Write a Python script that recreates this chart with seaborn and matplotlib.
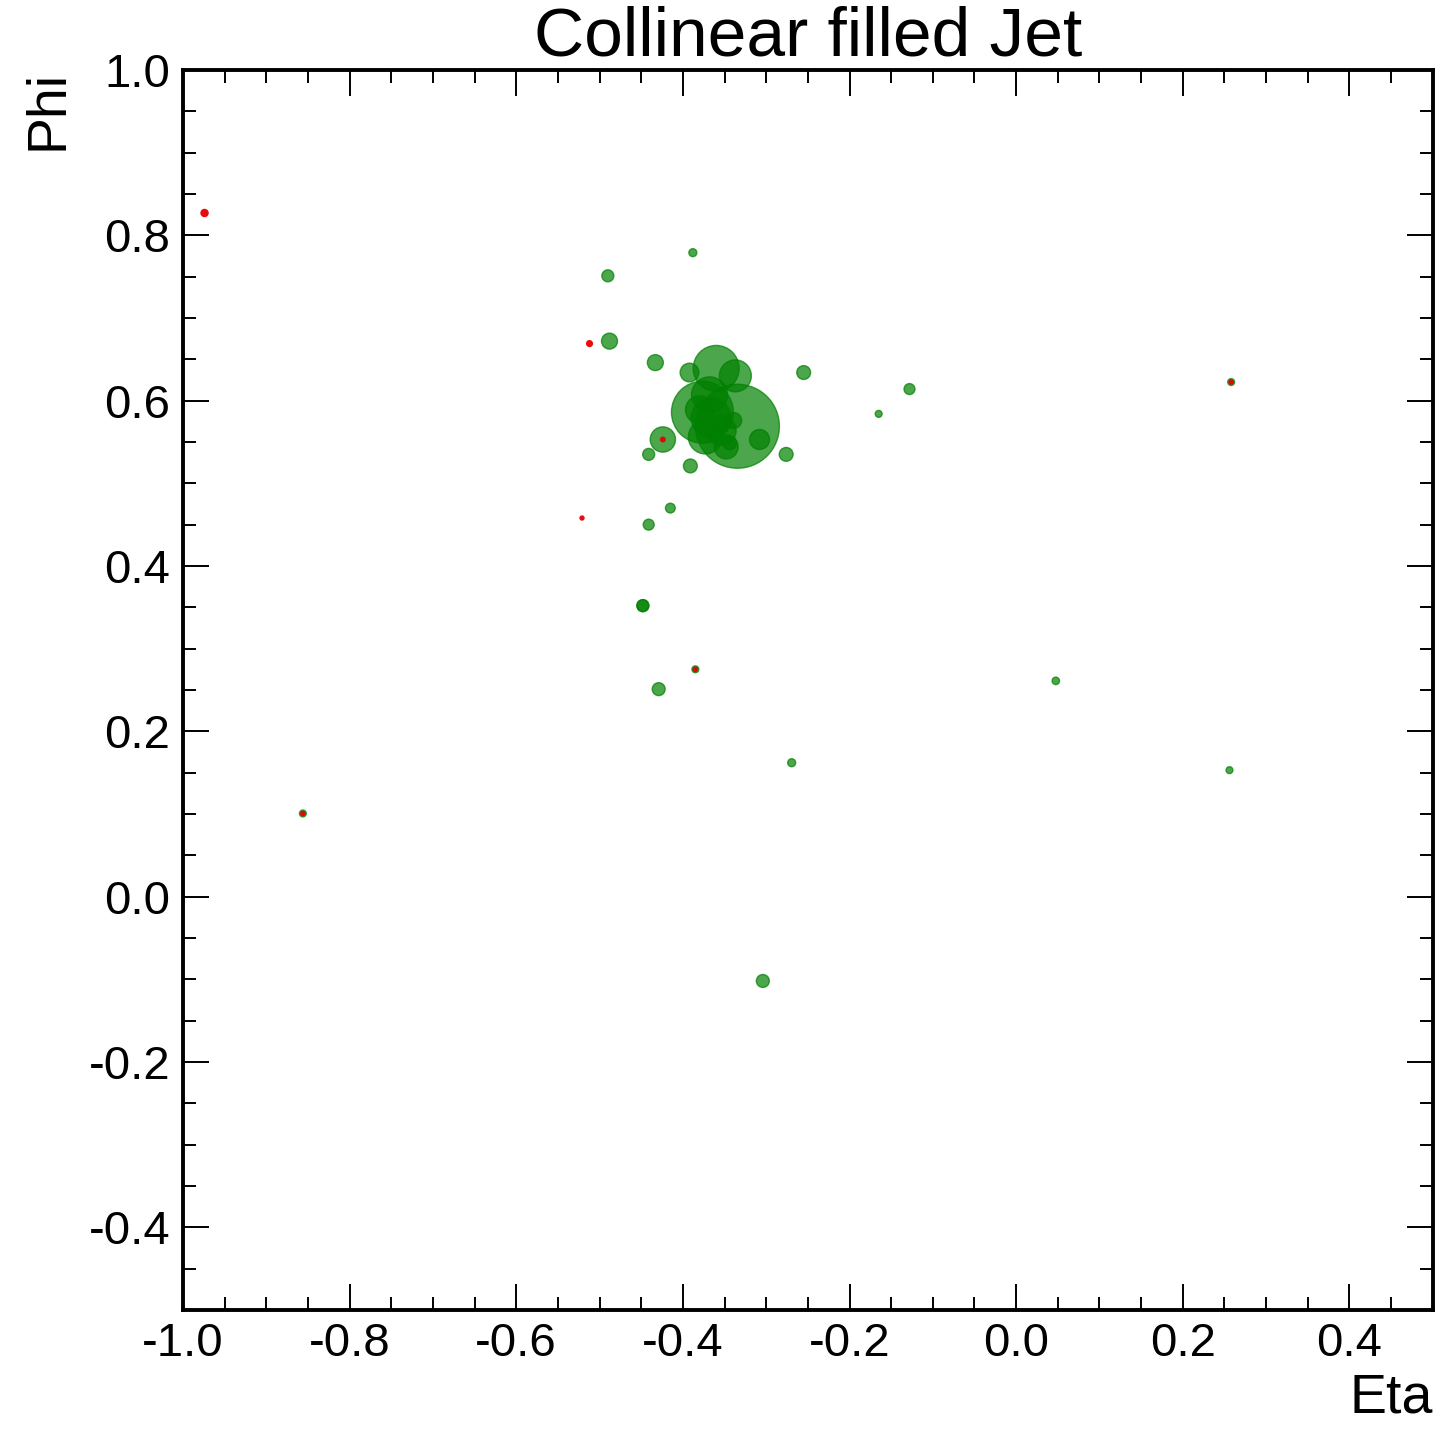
import matplotlib
matplotlib.use("Agg")
import matplotlib.pyplot as plt
from matplotlib.ticker import MultipleLocator, FormatStrFormatter
import pandas as pd
import seaborn as sns

# Charged constituents (green) and neutral/collinear fill (red): eta, phi, pt
green_eta = [-0.388, -0.490, -0.488, -0.433, -0.392, -0.360, -0.337, -0.255,
             -0.3765, -0.3345, -0.368, -0.366, -0.373, -0.354, -0.380, -0.344,
             -0.348, -0.339, -0.308, -0.424, -0.441, -0.391, -0.276, -0.415,
             -0.441, -0.128, -0.165, -0.448, -0.448, -0.429, -0.385, 0.0476,
             0.256, -0.2694, -0.304, -0.856, 0.258]
green_phi = [0.779, 0.751, 0.672, 0.646, 0.634, 0.639, 0.630, 0.634,
             0.586, 0.569, 0.607, 0.579, 0.556, 0.564, 0.589, 0.549,
             0.544, 0.576, 0.553, 0.553, 0.535, 0.521, 0.535, 0.470,
             0.450, 0.614, 0.584, 0.352, 0.352, 0.251, 0.275, 0.261,
             0.153, 0.162, -0.102, 0.1006, 0.6225]
green_pt = [4, 9, 16, 16, 22, 132, 64, 12,
            240, 441, 81, 100, 72, 56, 49, 12,
            36, 16, 25, 40, 9, 12, 12, 6,
            7.5, 7.5, 3, 9, 9, 10.5, 3, 3.5,
            3, 4, 10.5, 3, 3]

red_eta = [-0.974, -0.512, -0.521, -0.424, -0.856, 0.258, -0.385]
red_phi = [0.827, 0.669, 0.458, 0.553, 0.1006, 0.6225, 0.275]
red_pt = [4.5, 3.2, 1.8, 2.2, 2, 2, 2]

PT_MAX = 441.0
S_MAX = 8.29 * PT_MAX

sns.set_theme(style="white")
plt.rcParams["font.family"] = ["Liberation Sans", "DejaVu Sans"]
plt.rcParams["axes.unicode_minus"] = False
plt.rcParams["text.color"] = "black"
plt.rcParams["axes.labelcolor"] = "black"

fig = plt.figure(figsize=(14.4, 14.34), dpi=100)
ax = fig.add_axes([0.127, 0.0865, 0.868, 0.8647])

green_df = pd.DataFrame({"eta": green_eta, "phi": green_phi, "pt": green_pt})
red_df = pd.DataFrame({"eta": red_eta, "phi": red_phi, "pt": red_pt})

sns.scatterplot(data=green_df, x="eta", y="phi", size="pt",
                sizes=(0, S_MAX), size_norm=(0, PT_MAX),
                color="#008000", alpha=0.7, edgecolor="#008000",
                linewidth=1.0, legend=False, ax=ax, zorder=2)
sns.scatterplot(data=red_df, x="eta", y="phi", size="pt",
                sizes=(0, S_MAX), size_norm=(0, PT_MAX),
                color="#e60000", alpha=0.95, edgecolor="none",
                legend=False, ax=ax, zorder=3)

ax.set_xlim(-1.0, 0.5)
ax.set_ylim(-0.5, 1.0)

ax.xaxis.set_major_locator(MultipleLocator(0.2))
ax.xaxis.set_minor_locator(MultipleLocator(0.05))
ax.yaxis.set_major_locator(MultipleLocator(0.2))
ax.yaxis.set_minor_locator(MultipleLocator(0.05))
ax.xaxis.set_major_formatter(FormatStrFormatter("%.1f"))
ax.yaxis.set_major_formatter(FormatStrFormatter("%.1f"))

ax.tick_params(which="both", direction="in", top=True, right=True,
               bottom=True, left=True, colors="black")
ax.tick_params(which="major", length=19, width=1.4, labelsize=34, pad=9)
ax.tick_params(which="minor", length=9.5, width=1.4)

for sp in ax.spines.values():
    sp.set_linewidth(2.8)
    sp.set_color("black")

ax.set_title("Collinear filled Jet", fontsize=50, pad=5, color="black")
ax.set_xlabel("Eta", fontsize=40, loc="right", labelpad=4, color="black")
ax.set_ylabel("Phi", fontsize=40, loc="top", labelpad=10, color="black")

fig.savefig("out.png", dpi=100, facecolor="white")
